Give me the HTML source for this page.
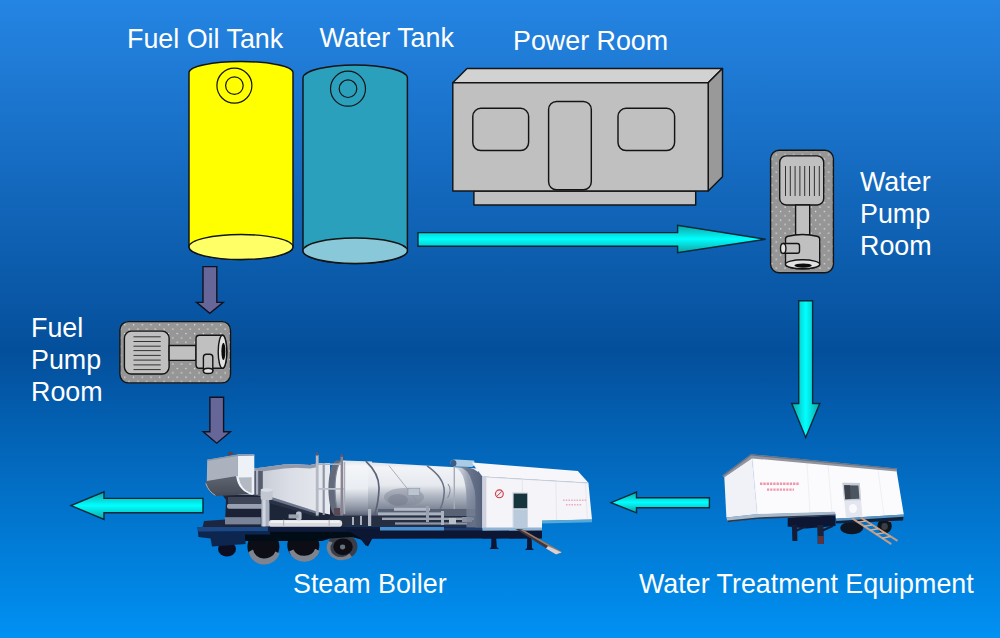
<!DOCTYPE html>
<html>
<head>
<meta charset="utf-8">
<title>Steam Boiler Process</title>
<style>
  html, body { margin: 0; padding: 0; width: 1000px; height: 638px; overflow: hidden; background: #0a5cb0; }
  svg { display: block; position: absolute; left: 0; top: 0; }
  text { font-family: "Liberation Sans", sans-serif; font-size: 26.85px; fill: #ffffff; }
</style>
</head>
<body>
<svg width="1000" height="638" viewBox="0 0 1000 638">
  <defs>
    <linearGradient id="bg" x1="0" y1="0" x2="0" y2="1">
      <stop offset="0" stop-color="#2585e3"/>
      <stop offset="0.55" stop-color="#044f9b"/>
      <stop offset="1" stop-color="#0091f3"/>
    </linearGradient>
    <linearGradient id="cyH" x1="0" y1="0" x2="0" y2="1">
      <stop offset="0" stop-color="#12a2a2"/>
      <stop offset="0.5" stop-color="#00ffff"/>
      <stop offset="1" stop-color="#12a2a2"/>
    </linearGradient>
    <linearGradient id="cyV" x1="0" y1="0" x2="1" y2="0">
      <stop offset="0" stop-color="#12a2a2"/>
      <stop offset="0.5" stop-color="#00ffff"/>
      <stop offset="1" stop-color="#12a2a2"/>
    </linearGradient>
    <linearGradient id="hopdark" x1="0" y1="0" x2="0" y2="1">
      <stop offset="0" stop-color="#5f6571"/>
      <stop offset="1" stop-color="#454b57"/>
    </linearGradient>
    <linearGradient id="fbx" x1="0" y1="0" x2="1" y2="0">
      <stop offset="0" stop-color="#c3c8d2"/>
      <stop offset="0.45" stop-color="#dadde5"/>
      <stop offset="1" stop-color="#e7eaef"/>
    </linearGradient>
    <linearGradient id="drumA" x1="0" y1="0" x2="0" y2="1">
      <stop offset="0" stop-color="#dfe3ea"/>
      <stop offset="0.1" stop-color="#f4f6f9"/>
      <stop offset="0.5" stop-color="#e9ecf1"/>
      <stop offset="0.68" stop-color="#b9bfca"/>
      <stop offset="0.88" stop-color="#828a9a"/>
      <stop offset="1" stop-color="#4e5668"/>
    </linearGradient>
    <linearGradient id="drumB" x1="0" y1="0" x2="0" y2="1">
      <stop offset="0" stop-color="#dde1e8"/>
      <stop offset="0.1" stop-color="#f1f3f7"/>
      <stop offset="0.42" stop-color="#e6e9ee"/>
      <stop offset="0.6" stop-color="#b4bac6"/>
      <stop offset="0.85" stop-color="#7f8797"/>
      <stop offset="1" stop-color="#505869"/>
    </linearGradient>
    <linearGradient id="fairsh" x1="0" y1="0" x2="1" y2="0">
      <stop offset="0" stop-color="#8a94a8" stop-opacity="0"/>
      <stop offset="0.5" stop-color="#7d889e" stop-opacity="0.7"/>
      <stop offset="1" stop-color="#69748c" stop-opacity="0.95"/>
    </linearGradient>
    <linearGradient id="fair" x1="0" y1="0" x2="1" y2="0">
      <stop offset="0" stop-color="#77829a"/>
      <stop offset="1" stop-color="#56617a"/>
    </linearGradient>
    <filter id="soft" x="-5%" y="-10%" width="110%" height="120%">
      <feGaussianBlur stdDeviation="0.45"/>
    </filter>
    <pattern id="dots" x="2.0" y="1.2" width="8.73" height="8.73" patternUnits="userSpaceOnUse">
      <rect width="8.73" height="8.73" fill="#969696"/>
      <rect x="0" y="0" width="1.2" height="1.2" fill="#ececec"/>
      <rect x="4.36" y="4.36" width="1.2" height="1.2" fill="#ececec"/>
    </pattern>
    <pattern id="dots2" x="3.1" y="1.3" width="8.73" height="8.73" patternUnits="userSpaceOnUse">
      <rect width="8.73" height="8.73" fill="#969696"/>
      <rect x="0" y="0" width="1.2" height="1.2" fill="#ececec"/>
      <rect x="4.36" y="4.36" width="1.2" height="1.2" fill="#ececec"/>
    </pattern>
  </defs>

  <!-- BACKGROUND -->
  <rect x="0" y="0" width="1000" height="638" fill="url(#bg)"/>

  <!-- LABELS -->
  <g id="labels">
    <text x="127" y="47.8">Fuel Oil Tank</text>
    <text x="319.6" y="46.7">Water Tank</text>
    <text x="513" y="50">Power Room</text>
    <text x="860" y="190.9">Water</text>
    <text x="860" y="223">Pump</text>
    <text x="860" y="255.1">Room</text>
    <text x="31" y="337">Fuel</text>
    <text x="31" y="369">Pump</text>
    <text x="31" y="401">Room</text>
    <text x="293" y="593">Steam Boiler</text>
    <text x="639" y="592.6">Water Treatment Equipment</text>
  </g>

  <!-- FUEL OIL TANK -->
  <g id="fueltank" stroke="#141414" stroke-width="1.45">
    <path d="M189,72.5 A52,11 0 0 1 293,72.5 L293,247 A52,12.5 0 0 1 189,247 Z" fill="#ffff00"/>
    <ellipse cx="241" cy="247" rx="52" ry="12.5" fill="#ffff66"/>
    <circle cx="234.4" cy="85.6" r="17.5" fill="none" stroke-width="1.2"/>
    <circle cx="234.4" cy="85.6" r="8.8" fill="none" stroke-width="1.2"/>
  </g>

  <!-- WATER TANK -->
  <g id="watertank" stroke="#141414" stroke-width="1.45">
    <path d="M303,78 A52.2,13 0 0 1 407.4,78 L407.4,250.7 A52.2,12.7 0 0 1 303,250.7 Z" fill="#2aa0bc"/>
    <ellipse cx="355.2" cy="250.7" rx="52.2" ry="12.7" fill="#88c8d8"/>
    <circle cx="348" cy="88.7" r="17.5" fill="none" stroke-width="1.2"/>
    <circle cx="348" cy="88.7" r="8.8" fill="none" stroke-width="1.2"/>
  </g>

  <!-- POWER ROOM -->
  <g id="powerroom" stroke="#141414" stroke-width="1.45" stroke-linejoin="round">
    <rect x="473.9" y="191" width="221.8" height="14" fill="#c0c0c0"/>
    <polygon points="452.8,82.7 467,68.4 722.5,68.4 708.2,82.7" fill="#d2d2d2"/>
    <polygon points="708.2,82.7 722.5,68.4 722.5,176.7 708.2,191" fill="#999999"/>
    <rect x="452.8" y="82.7" width="255.4" height="108.3" fill="#c0c0c0"/>
    <rect x="472.8" y="108.3" width="55.8" height="42.2" rx="8" ry="8" fill="#c0c0c0"/>
    <rect x="548.6" y="101.5" width="42.7" height="88.3" rx="8" ry="8" fill="#c0c0c0"/>
    <rect x="618" y="108.3" width="56.6" height="42.2" rx="8" ry="8" fill="#c0c0c0"/>
  </g>

  <!-- CYAN ARROWS -->
  <g id="cyanarrows" stroke="#062838" stroke-width="1.4" stroke-linejoin="miter">
    <polygon points="418,232.6 677.6,232.6 677.6,225.4 765.6,239.2 677.6,252.6 677.6,246.2 418,246.2" fill="url(#cyH)"/>
    <polygon points="798.7,300.8 812.6,300.8 812.6,403.5 819.8,403.5 805.7,437.4 791.7,403.5 798.7,403.5" fill="url(#cyV)"/>
    <polygon points="709.4,497.7 636.5,497.7 636.5,492 611,502.7 636.5,512.8 636.5,507.8 709.4,507.8" fill="url(#cyH)"/>
    <polygon points="203,498.4 104,498.4 104,491.8 71,505.6 104,519.4 104,512.8 203,512.8" fill="url(#cyH)"/>
  </g>

  <!-- PURPLE ARROWS -->
  <g id="purplearrows" stroke="#12121e" stroke-width="1.4" fill="#666699">
    <polygon points="203,266.6 216.8,266.6 216.8,302.4 223.2,302.4 209.8,313.4 196.6,302.4 203,302.4"/>
    <polygon points="209.9,397.2 223.6,397.2 223.6,431.8 230.4,431.8 216.7,443.2 203.2,431.8 209.9,431.8"/>
  </g>

  <!-- PUMPS (added below) -->
  <g id="waterpump" stroke="#141414" stroke-width="1.4" stroke-linejoin="round">
    <rect x="770.6" y="150.2" width="62.8" height="122.6" rx="8.5" ry="8.5" fill="url(#dots2)"/>
    <!-- motor -->
    <rect x="779.7" y="155.9" width="44" height="49.1" rx="6.5" ry="6.5" fill="#c0c0c0"/>
    <g stroke-width="0.9" stroke="#222222">
      <line x1="785.5" y1="166" x2="785.5" y2="196"/>
      <line x1="790.3" y1="166" x2="790.3" y2="196"/>
      <line x1="795.1" y1="166" x2="795.1" y2="196"/>
      <line x1="799.9" y1="166" x2="799.9" y2="196"/>
      <line x1="804.7" y1="166" x2="804.7" y2="196"/>
      <line x1="809.5" y1="166" x2="809.5" y2="196"/>
      <line x1="814.4" y1="166" x2="814.4" y2="196"/>
      <line x1="819.3" y1="166" x2="819.3" y2="196"/>
    </g>
    <!-- shaft -->
    <rect x="795.6" y="205" width="14.1" height="30" fill="#c0c0c0"/>
    <!-- pump body (vertical cylinder) -->
    <path d="M785.5,239 Q785.5,236.8 788,236.2 Q802.5,232.8 817,236.2 Q819.7,236.8 819.7,239 L819.7,264.3 A17.1,4.5 0 0 1 785.5,264.3 Z" fill="#c0c0c0"/>
    <ellipse cx="802.6" cy="264.3" rx="17.1" ry="4.5" fill="#e2e2e2"/>
    <ellipse cx="803.1" cy="265.6" rx="8.7" ry="2.1" fill="#0c0c0c" stroke="none"/>
    <!-- side pipe -->
    <path d="M783.2,243.5 L797.3,243.5 Q799.5,243.5 799.5,245.7 L799.5,251.1 Q799.5,253.3 797.3,253.3 L783.2,253.3 Z" fill="#c0c0c0"/>
    <ellipse cx="783.2" cy="248.4" rx="2.7" ry="4.9" fill="#e2e2e2"/>
  </g>

  <g id="fuelpump" stroke="#141414" stroke-width="1.4" stroke-linejoin="round">
    <rect x="119.9" y="321.6" width="110.6" height="61.3" rx="8.5" ry="8.5" fill="url(#dots)"/>
    <!-- motor -->
    <rect x="124.4" y="331.1" width="44.7" height="42.9" rx="7" ry="7" fill="#c0c0c0"/>
    <g stroke-width="0.9" stroke="#222222">
      <line x1="133.5" y1="336.8" x2="160.7" y2="336.8"/>
      <line x1="133.5" y1="341.5" x2="160.7" y2="341.5"/>
      <line x1="133.5" y1="346.2" x2="160.7" y2="346.2"/>
      <line x1="133.5" y1="350.6" x2="160.7" y2="350.6"/>
      <line x1="133.5" y1="355.4" x2="160.7" y2="355.4"/>
      <line x1="133.5" y1="360.1" x2="160.7" y2="360.1"/>
      <line x1="133.5" y1="364.9" x2="160.7" y2="364.9"/>
      <line x1="133.5" y1="369.6" x2="160.7" y2="369.6"/>
    </g>
    <!-- shaft -->
    <rect x="169.1" y="345.5" width="26.9" height="14.9" fill="#c0c0c0"/>
    <!-- pump body (horizontal cylinder) -->
    <path d="M199.5,335.3 Q196,335.3 196,338.8 L196,364.8 Q196,368.3 199.5,368.3 L222.5,368.3 A4.3,16.5 0 0 0 222.5,335.3 Z" fill="#c0c0c0"/>
    <ellipse cx="222.5" cy="351.8" rx="4.3" ry="16.5" fill="#e2e2e2"/>
    <ellipse cx="223.4" cy="351.3" rx="2" ry="8.6" fill="#0c0c0c" stroke="none"/>
    <!-- bottom pipe -->
    <path d="M203.4,357.3 Q203.4,354.3 206.4,354.3 L209.8,354.3 Q212.8,354.3 212.8,357.3 L212.8,370.9 L203.4,370.9 Z" fill="#c0c0c0"/>
    <ellipse cx="208.1" cy="370.9" rx="4.7" ry="2.6" fill="#e2e2e2"/>
  </g>

  <!-- VEHICLES (added below) -->
  <g id="trailer" filter="url(#soft)">
    <!-- wheels (behind) -->
    <ellipse cx="851.8" cy="528" rx="11.5" ry="6.2" fill="#0e1424"/>
    <ellipse cx="884.6" cy="526" rx="7.2" ry="7.4" fill="#10141e"/>
    <ellipse cx="884.6" cy="526.5" rx="3.2" ry="3.4" fill="#3a3e48"/>
    <circle cx="889.5" cy="520.3" r="1.6" fill="#d84848"/>
    <!-- under frame -->
    <polygon points="787.7,515 835.5,514.6 835.5,525.9 806,528.6 787.7,526.4" fill="#0b1630"/>
    <polygon points="836,519 903.6,515.6 903,520.6 836,523.4" fill="#10203c"/>
    <!-- legs -->
    <polygon points="791.9,525 797.1,525 797.4,541 792.4,541" fill="#141c36"/>
    <polygon points="817.2,525 823.4,525 824,544 817.8,544" fill="#1c2038"/>
    <polygon points="818,536 823.8,536 824,544 817.8,544" fill="#5a3440"/>
    <polygon points="797,529 806,525.5 806,527.5 797,531.5" fill="#141c36"/>
    <polygon points="823,529 833,525 833,527 823,531.5" fill="#141c36"/>
    <!-- front (left) face -->
    <polygon points="724.3,476.9 752,457.4 757.2,514.3 726.4,517.6" fill="#f1f2f7"/>
    <!-- side face -->
    <polygon points="752,457.4 896.5,470.6 903.8,514.6 836,518.7 835,512.2 757.2,514.3" fill="#fbfbfd"/>
    <!-- panel seams -->
    <g stroke="#e6e8ee" stroke-width="0.6" fill="none">
      <line x1="752.4" y1="458" x2="757.2" y2="514"/>
      <line x1="807" y1="463" x2="810" y2="512.6"/>
      <line x1="828" y1="465" x2="832" y2="512.2"/>
      <line x1="878" y1="469.5" x2="884" y2="515.6"/>
    </g>
    <!-- roof edge -->
    <polygon points="722.4,475.6 751,454.2 897.2,468.4 896.4,471.4 752,458.4 724,477.6" fill="#9095a0"/>
    <polygon points="722.4,475.6 751,454.2 897.2,468.4 897,469.4 751.2,455.6 723,476.6" fill="#6a7080"/>
    <!-- bottom strips -->
    <polygon points="726.4,517.4 757.2,514.1 835,511.8 835.4,515.6 757.4,518.6 727.6,521.9" fill="#a9b9cb"/>
    <polygon points="727.2,520.4 757.4,517.4 835.4,514.6 835.4,515.8 757.4,519 727.6,522.2" fill="#2a3a52"/>
    <polygon points="836,518.5 903.8,514.4 904,516.8 836.2,521" fill="#5a92c0"/>
    <!-- door + window -->
    <polygon points="842.4,482.8 859.8,483 862.4,516.8 846,517.8" fill="#e3e6ee"/>
    <polygon points="842.4,482.8 859.8,483 861,500.2 844,500.6" fill="#c8ccd6"/>
    <polygon points="844.2,485.2 858.4,485.4 859.4,498.8 845.2,499.2" fill="#4c545e"/>
    <polygon points="844.2,485.2 850,485.3 850.6,499 845.2,499.2" fill="#3a424c"/>
    <ellipse cx="853" cy="508.5" rx="4" ry="4.5" fill="#f8f9fc"/>
    <!-- red lettering -->
    <g fill="#ea5878">
      <line x1="760" y1="483.8" x2="799" y2="483.8" stroke="#ea5878" stroke-width="2.6" stroke-dasharray="2.4 0.9" opacity="0.62"/>
      <line x1="767" y1="489.6" x2="794" y2="489.6" stroke="#ea5878" stroke-width="2.4" stroke-dasharray="2.2 1" opacity="0.62"/>
    </g>
    <!-- ladder -->
    <g stroke="#c49c84" stroke-width="2" fill="none" stroke-linecap="round">
      <line x1="853" y1="518.8" x2="890.6" y2="543.6"/>
      <line x1="861.4" y1="518" x2="896.8" y2="540.4"/>
    </g>
    <g stroke="#d0b09a" stroke-width="1.5" fill="none">
      <line x1="858" y1="522.2" x2="866" y2="521"/>
      <line x1="864" y1="526.2" x2="872" y2="525"/>
      <line x1="870" y1="530.2" x2="878" y2="528.8"/>
      <line x1="876" y1="534.2" x2="884.4" y2="532.8"/>
      <line x1="882" y1="538.2" x2="890.4" y2="536.6"/>
    </g>
  </g>

  <g id="truck" filter="url(#soft)">
    <!-- ===== wheels (behind chassis) ===== -->
    <g id="wheels">
      <ellipse cx="227" cy="549" rx="9" ry="7.4" fill="#0a1020"/>
      <!-- wheel 1 -->
      <ellipse cx="263.4" cy="546.4" rx="16" ry="15.4" fill="#0a0e18"/>
      <path d="M248.6,552 A16,15.4 0 0 0 279.6,553.6 L275.4,551.4 A11.6,10.6 0 0 1 253,549.6 Z" fill="#7e838e"/>
      <!-- wheel 2 -->
      <ellipse cx="303.3" cy="545.4" rx="16" ry="14.8" fill="#0a0e18"/>
      <path d="M289,551.6 A16,14.8 0 0 0 319.6,551 L315.2,548.8 A11.6,10.2 0 0 1 293.4,549.4 Z" fill="#7e838e"/>
      <!-- wheel 3 -->
      <ellipse cx="342.3" cy="546.6" rx="15.2" ry="13" fill="#3a3e4a"/>
      <path d="M328.6,541 A15.2,13 0 0 0 352,557 L349.4,553.6 A10.6,9 0 0 1 332.6,542.6 Z" fill="#7b808b"/>
      <ellipse cx="343" cy="546.8" rx="9.8" ry="8.4" fill="#0c1018"/>
      <ellipse cx="342.6" cy="547" rx="2.6" ry="2.4" fill="#6b6f79"/>
      <!-- dark mass above wheels -->
      <polygon points="244.4,530 372.4,530 372.4,538 368,546.6 361,539.6 352,537 330,538.4 322,541 284,541 244.4,541" fill="#060a18"/>
    </g>

    <!-- ===== chassis ===== -->
    <polygon points="197.5,527 270,527 270,534.4 245,534.6 245.6,544 212,546.4 210.6,538.6 198.4,537" fill="#0c2650"/>
    <polygon points="197.5,527 270,526.4 270,531 197.8,531.6" fill="#1d4a86"/>
    <rect x="268" y="526.4" width="214" height="5.2" fill="#0b1a3c"/>
    <polygon points="345,529 482,529 482,538.6 372,538.8 366,546 360,538" fill="#081530"/>
    <polygon points="380,527 444,527 444,530.6 380,530.6" fill="#4a8fd0"/>
    <polygon points="444,527.6 482,527.6 482,530.6 444,530.6" fill="#1d3a68"/>
    <polygon points="482,529.6 542,529.6 542,538.4 482,538.8" fill="#091632"/>
    <!-- legs -->
    <polygon points="491.4,538 496.2,538 496.8,547 499,549 489.6,549 491.2,547" fill="#0c1430"/>
    <polygon points="527.2,538 531.6,538 532,548 534,550 525,550 527,548" fill="#0c1430"/>

    <!-- ===== machinery under hopper ===== -->
    <polygon points="222,494.6 269.5,494.6 318.9,511.6 330,505 346,505 346,527 224.8,527 226,500" fill="#1e2638"/>
    <rect x="227" y="503.8" width="41" height="5" rx="2" fill="#98a0b2"/>
    <rect x="228" y="497" width="33" height="6.6" fill="#3c4456"/>
    <rect x="224.8" y="517.2" width="36" height="7.2" fill="#7a8398"/>
    <rect x="226" y="509.2" width="35" height="7.6" fill="#1c2436"/>
    <rect x="261.3" y="498" width="8.2" height="28.4" fill="#a9b1c1"/>
    <rect x="262.6" y="498" width="3" height="28.4" fill="#cfd4df"/>
    <polygon points="204,521 225,519.6 225,527 202.6,527" fill="#1e2840"/>
    <!-- sloped grate -->
    <polygon points="269.5,496.4 318.9,512 318.9,517.2 269.5,503.2" fill="#2a3346"/>
    <polygon points="269.5,496.4 318.9,512 318.9,514.6 269.5,499.2" fill="#6c7589"/>

    <!-- ===== firebox body ===== -->
    <polygon points="253.8,468.6 262,467.4 284,464.6 296,464.2 310,465 318,463.2 330,463 330,514.6 318.9,512.2 269.5,496.6 253.8,494.8" fill="url(#fbx)"/>
    <polygon points="253.8,468.6 262,467.4 284,464.6 296,464.2 310,465 318,463.2 318,467 310,468.6 296,467.8 284,468.4 262,471.4 254.8,472.6" fill="#9299aa"/>
    <!-- dark gap between hopper and firebox -->
    <rect x="253.8" y="471" width="9" height="24.4" fill="#545c6e"/>
    <rect x="256" y="470" width="2.2" height="24.6" fill="#aab0be"/>
    <!-- small vertical tank -->
    <rect x="260.6" y="489.4" width="12" height="10.6" rx="2" fill="#c2c7d2"/>
    <ellipse cx="266.6" cy="490" rx="6" ry="1.8" fill="#d9dde5"/>

    <!-- ===== hopper ===== -->
    <!-- front upper panel -->
    <polygon points="207.2,459.8 237.9,454.6 237.9,477 206.8,481.4" fill="#abb2be"/>
    <!-- side panel (white) -->
    <polygon points="237.9,454.6 254.3,454.5 254.3,494.4 237.9,495" fill="#eef1f5"/>
    <!-- inner light-grey panel -->
    <path d="M238.6,477.4 L251.6,477.2 L251.6,493.2 Q241,489.8 238.6,477.4 Z" fill="#b3b9c3"/>
    <!-- dark lower curved body -->
    <path d="M206.8,481 L236.8,476 Q238.4,490.4 252.6,494.2 L215.6,496 Q207.6,492.2 205.2,482.6 Z" fill="url(#hopdark)"/>
    <!-- white chute edge -->
    <path d="M236.9,476 Q238.6,490.6 252.8,494.4" fill="none" stroke="#f2f4f7" stroke-width="1.5"/>
    <!-- pale rim lower-left -->
    <path d="M205.8,483.4 Q208.6,491.6 215.4,495.4" fill="none" stroke="#c3c8d2" stroke-width="0.8"/>
    <!-- top lip -->
    <polygon points="207.2,459.8 237.9,454.6 254.3,454.5 254.3,455.7 237.9,455.9 207.3,461.1" fill="#8f96a5"/>
    <ellipse cx="230.4" cy="453.4" rx="2.6" ry="1.6" fill="#6a3c40"/>

    <!-- ===== main drum ===== -->
    <!-- dark front face visible behind ladder -->
    <path d="M337,460.6 A8.6,28.2 0 0 0 337,517 L346,517 L346,460.6 Z" fill="#626a7c"/>
    <!-- large front section -->
    <path d="M343,460.4 L372,461.4 L372,517 L343,517 A8,28.3 0 0 1 343,460.4 Z" fill="url(#drumA)"/>
    <path d="M343,460.4 A8,28.3 0 0 0 343,517" fill="none" stroke="#7c8496" stroke-width="1.1"/>
    <!-- rear section -->
    <path d="M368,462.2 L478,468.6 L478,515 L368,517 Z" fill="url(#drumB)"/>
    <!-- mottled darker patch -->
    <ellipse cx="404" cy="497" rx="20" ry="9" fill="#7f8694" opacity="0.45"/>
    <ellipse cx="398" cy="500" rx="10" ry="6" fill="#6a7180" opacity="0.35"/>
    <!-- ring 1 -->
    <path d="M365.8,461.2 Q379.6,474 379,489 Q378.4,505 373.6,517" fill="none" stroke="#5c6476" stroke-width="1.7"/>
    <!-- ring 2 -->
    <path d="M427,465.8 Q444.8,478 444.2,492 Q443.6,504 438.6,512" fill="none" stroke="#667082" stroke-width="1.5"/>
    <path d="M448,484 Q452.4,490 447.6,498" fill="none" stroke="#7e8696" stroke-width="1"/>
    <!-- cable -->
    <line x1="389" y1="465.6" x2="427" y2="513.4" stroke="#8b92a1" stroke-width="0.7"/>
    <!-- plate -->
    <rect x="408" y="488.2" width="11.8" height="7.2" fill="#bcc4d2" stroke="#8a92a0" stroke-width="0.6"/>
    <!-- thin vertical rod -->
    <rect x="453.6" y="466" width="1.4" height="54" fill="#a3abb9"/>

    <!-- ===== ladder frame ===== -->
    <rect x="315.8" y="455" width="2.8" height="60.6" fill="#b4b9c4"/>
    <rect x="322.6" y="463" width="2.2" height="52" fill="#9097a6"/>
    <rect x="318" y="488" width="26.6" height="1.8" fill="#b9bec8"/>
    <rect x="318" y="463.4" width="24" height="1.6" fill="#aab0bc"/>
    <rect x="340.6" y="456" width="2.4" height="60.4" fill="#8a8490"/>
    <rect x="343.6" y="462" width="1.6" height="52" fill="#a7adb9"/>
    <rect x="316" y="452.6" width="2.2" height="3" fill="#6a5460"/>
    <rect x="340.6" y="454" width="2.2" height="3" fill="#6a5460"/>

    <!-- ===== pipework under drum ===== -->
    <rect x="330" y="515.6" width="152" height="11" fill="#262e42"/>
    <rect x="378" y="509" width="100" height="7" fill="#596274"/>
    <rect x="378" y="512.4" width="66" height="2.6" fill="#aab1bf"/>
    <rect x="382" y="517.6" width="92" height="2.4" fill="#9ea6b4"/>
    <rect x="395" y="522.4" width="72" height="2.2" fill="#8f97a6"/>
    <rect x="394" y="507.8" width="36" height="3" fill="#b3b9c5"/>
    <rect x="368" y="509" width="3.2" height="17" fill="#b3b9c5"/>
    <rect x="352" y="517" width="2" height="8" fill="#a9afbb"/>
    <rect x="360" y="516" width="2" height="9" fill="#a9afbb"/>
    <rect x="426" y="506" width="3" height="16" fill="#9aa2b0"/>
    <rect x="441" y="511" width="3" height="14" fill="#aab1bf"/>
    <rect x="449" y="518" width="7" height="6" fill="#b9bfca"/>
    <rect x="462" y="517" width="10" height="5" fill="#8a92a2"/>
    <rect x="334" y="508" width="6" height="7" fill="#5a4a54"/>

    <!-- ===== white pipe ===== -->
    <rect x="268.6" y="520" width="73.6" height="6.8" rx="3.4" ry="3.4" fill="#d9dade"/>
    <rect x="270" y="520.6" width="70" height="2.4" rx="1.2" fill="#f0f1f4"/>
    <rect x="283" y="519.8" width="1.2" height="7" fill="#b9b2b6"/>
    <rect x="328.6" y="519.8" width="1.2" height="7" fill="#b9b2b6"/>
    <rect x="296" y="511.6" width="5.6" height="8.6" rx="2" fill="#b9bfca"/>
    <rect x="288.6" y="514.4" width="10" height="4" fill="#9aa2b0"/>

    <!-- ===== cab fairing (shadowed drum end) ===== -->
    <path d="M452,466.6 Q462,469.6 464.4,481 Q466.6,490 466.4,499 L466.4,527.6 L482.6,527.6 L482.6,477 Q475,465.8 452,466.6 Z" fill="url(#fairsh)"/>
    <path d="M459.4,466.8 Q468.6,469.6 471.8,481 Q475.6,490 475.4,499 L475.4,527.6 L482.6,527.6 L482.6,477 Q475,465.8 459.4,466.8 Z" fill="url(#fair)"/>
    <path d="M450.4,463 Q450.6,459.4 456,459.6 L474,460.6 Q476,465.6 472,467 L456,466.6 Q451,466.4 450.4,463 Z" fill="#a9cbe6"/>
    <ellipse cx="453.4" cy="463.2" rx="3" ry="3.2" fill="#3a5c84"/>

    <!-- ===== cabin ===== -->
    <polygon points="472,462.4 577.8,471 588.4,482.8 482.4,476.6 475,467" fill="#f7f7fb"/>
    <polygon points="482.4,476.6 588.4,482.8 592,519.6 542,520.8 542,528 482.4,528" fill="#f5f5f9"/>
    <line x1="482.4" y1="476.8" x2="588.4" y2="483" stroke="#c9ccd6" stroke-width="0.9"/>
    <g stroke="#dfe1e8" stroke-width="0.7">
      <line x1="486.4" y1="477" x2="486.4" y2="527.6"/>
      <line x1="522.4" y1="479" x2="522.4" y2="492"/>
      <line x1="555.8" y1="481" x2="556.6" y2="520"/>
      <line x1="585.4" y1="483" x2="587.4" y2="519.4"/>
    </g>
    <polygon points="482.4,476.6 486,476.8 486,528 482.4,528" fill="#cfd2dc"/>
    <!-- door -->
    <polygon points="512.4,492 528,492.6 528,527.6 512.6,527.6" fill="#d5d9e3"/>
    <rect x="513.6" y="493.6" width="13.6" height="14.6" fill="#12343e"/>
    <rect x="513.6" y="509.6" width="13.6" height="17.6" fill="#b9cadc"/>
    <!-- sign -->
    <circle cx="499.4" cy="493.8" r="3.9" fill="#f4eef0" stroke="#cc3a4c" stroke-width="1.1"/>
    <line x1="496.8" y1="496.4" x2="502" y2="491.2" stroke="#cc3a4c" stroke-width="1"/>
    <!-- red lettering -->
    <g stroke="#e26a80" opacity="0.5" stroke-width="1.6" stroke-dasharray="1.6 1.1">
      <line x1="563" y1="500.2" x2="586" y2="500.2"/>
      <line x1="566" y1="504.8" x2="582" y2="504.8"/>
    </g>
    <!-- blue trim -->
    <polygon points="542,520.6 592,519.4 592,522.2 542,523.6" fill="#56a8d6"/>
    <polygon points="482.4,527.4 542,527.4 542,530.4 482.4,530.8" fill="#8fb4d6"/>
    <!-- stairs -->
    <polygon points="515.6,529 521.6,529 561.6,552.4 556,554.4" fill="#3c3840"/>
    <polygon points="519.6,529.4 522.6,529.4 562,552 560,553" fill="#a07a60"/>
    <polygon points="548,546 561.6,552.4 556,554.4 546,548.6" fill="#d6d2d6"/>
  </g>
</svg>
</body>
</html>
